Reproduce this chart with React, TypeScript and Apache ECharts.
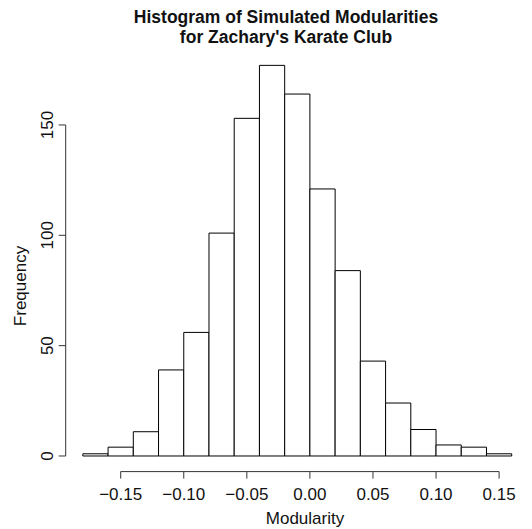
import React, { useEffect, useRef } from "react";
import * as echarts from "echarts";

// Histogram bins (Modularity) and counts
const binStarts = [-0.18, -0.16, -0.14, -0.12, -0.1, -0.08, -0.06, -0.04, -0.02, 0.0, 0.02, 0.04, 0.06, 0.08, 0.1, 0.12, 0.14];
const binWidth = 0.02;
const counts = [1, 4, 11, 39, 56, 101, 153, 177, 164, 121, 84, 43, 24, 12, 5, 4, 1];
const xTicks = [-0.15, -0.1, -0.05, 0.0, 0.05, 0.1, 0.15];
const yTicks = [0, 50, 100, 150];

const X_MIN = -0.1936;
const X_MAX = 0.1737;
const Y_MIN = -7.07;
const Y_MAX = 184.1;

const FONT = "'Liberation Sans', Arial, Helvetica, sans-serif";
const TICK_LEN = 7;

function fmtX(v: number): string {
  const s = Math.abs(v).toFixed(2);
  return v < -1e-9 ? "\u2212" + s : s;
}

export default function App() {
  const ref = useRef<HTMLDivElement>(null);
  useEffect(() => {
    if (!ref.current) return;
    const chart = echarts.init(ref.current, undefined, { renderer: "svg" });
    const barData = binStarts.map((s, i) => [s, s + binWidth, counts[i]]);
    // axis lines: [x1, y1, x2, y2, dx, dy] (dx/dy = pixel offset of second end; 0 for lines)
    const axisData: number[][] = [
      [xTicks[0], Y_MIN, xTicks[xTicks.length - 1], Y_MIN, 0, 0],
      [X_MIN, yTicks[0], X_MIN, yTicks[yTicks.length - 1], 0, 0],
    ];
    xTicks.forEach((t) => axisData.push([t, Y_MIN, t, Y_MIN, 0, TICK_LEN]));
    yTicks.forEach((t) => axisData.push([X_MIN, t, X_MIN, t, -TICK_LEN, 0]));
    chart.setOption({
      animation: false,
      backgroundColor: "#ffffff",
      title: {
        text: "Histogram of Simulated Modularities\nfor Zachary's Karate Club",
        left: 281,
        top: 2,
        textAlign: "center",
        textStyle: {
          fontFamily: FONT,
          fontWeight: "bold",
          fontSize: 17.5,
          lineHeight: 20,
          color: "#111",
        },
      },
      grid: { left: 65.7, right: 3, top: 49.7, bottom: 57.4, containLabel: false },
      xAxis: {
        type: "value",
        min: X_MIN,
        max: X_MAX,
        axisLine: { show: false },
        splitLine: { show: false },
        axisTick: { show: false },
        axisLabel: {
          customValues: xTicks,
          formatter: (v: number) => fmtX(v),
          margin: 14,
          fontFamily: FONT,
          fontSize: 17,
          color: "#111",
        },
      },
      yAxis: {
        type: "value",
        min: Y_MIN,
        max: Y_MAX,
        axisLine: { show: false },
        splitLine: { show: false },
        axisTick: { show: false },
        axisLabel: {
          customValues: yTicks,
          rotate: 90,
          margin: 10,
          fontFamily: FONT,
          fontSize: 17,
          color: "#111",
        },
      },
      graphic: [
        {
          type: "text",
          x: 305,
          y: 518,
          style: {
            text: "Modularity",
            fontFamily: FONT,
            fontSize: 17,
            fill: "#111",
            textAlign: "center",
            textVerticalAlign: "middle",
          },
        },
        {
          type: "text",
          x: 20.5,
          y: 286,
          rotation: Math.PI / 2,
          style: {
            text: "Frequency",
            fontFamily: FONT,
            fontSize: 17,
            fill: "#111",
            textAlign: "center",
            textVerticalAlign: "middle",
          },
        },
      ],
      series: [
        {
          type: "custom",
          name: "Frequency",
          data: barData,
          renderItem: (params: any, api: any) => {
            const p0 = api.coord([api.value(0), api.value(2)]);
            const p1 = api.coord([api.value(1), 0]);
            return {
              type: "rect",
              shape: { x: p0[0], y: p0[1], width: p1[0] - p0[0], height: p1[1] - p0[1] },
              style: { fill: "#ffffff", stroke: "#000000", lineWidth: 1 },
            };
          },
          encode: { x: [0, 1], y: 2 },
          silent: true,
        },
        {
          type: "custom",
          name: "axes",
          data: axisData,
          renderItem: (params: any, api: any) => {
            const a = api.coord([api.value(0), api.value(1)]);
            const b = api.coord([api.value(2), api.value(3)]);
            return {
              type: "line",
              shape: { x1: a[0], y1: a[1], x2: b[0] + api.value(4), y2: b[1] + api.value(5) },
              style: { stroke: "#333", lineWidth: 1 },
            };
          },
          encode: { x: [0, 2], y: [1, 3] },
          clip: false,
          silent: true,
        },
      ],
    });
    return () => chart.dispose();
  }, []);
  return (
    <div
      ref={ref}
      style={{ position: "fixed", left: 0, top: 0, width: 532, height: 529, background: "#fff" }}
    />
  );
}
